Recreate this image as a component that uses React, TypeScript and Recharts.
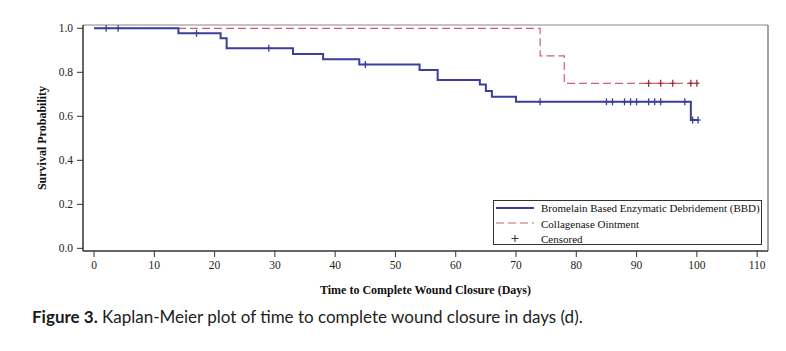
import React from "react";
import {
  ComposedChart,
  Line,
  Scatter,
  XAxis,
  YAxis,
  ReferenceLine,
} from "recharts";

const TIME_TICKS = [0, 10, 20, 30, 40, 50, 60, 70, 80, 90, 100, 110];
const PROB_TICKS = [0, 0.2, 0.4, 0.6, 0.8, 1.0];

const bbdTimes = [0, 14, 21, 22, 33, 38, 44, 54, 57, 64, 65, 66, 70, 99, 100.2];
const bbdSurv = [1, 0.977, 0.955, 0.909, 0.883, 0.859, 0.836, 0.81, 0.765, 0.745, 0.715, 0.689, 0.666, 0.583, 0.583];
const bbdCensorTimes = [2, 4, 17, 29, 45, 74, 85, 86, 88, 89, 90, 92, 93, 94, 98, 99.3, 100.2];
const bbdCensorSurv = [1, 1, 0.977, 0.909, 0.836, 0.666, 0.666, 0.666, 0.666, 0.666, 0.666, 0.666, 0.666, 0.666, 0.666, 0.583, 0.583];

const colTimes = [0, 74, 78, 100];
const colSurv = [1, 0.875, 0.75, 0.75];
const colCensorTimes = [92, 94, 96, 99, 100];
const colCensorSurv = [0.75, 0.75, 0.75, 0.75, 0.75];

const SERIES_NAMES = [
  "Bromelain Based Enzymatic Debridement (BBD)",
  "Collagenase Ointment",
  "Censored",
];

const X_TITLE = "Time to Complete Wound Closure (Days)";
const Y_TITLE = "Survival Probability";

const BLUE = "#3b3e9c";
const RED = "#c9636d";
const DARKRED = "#9e2f3c";
const SERIF = "'Liberation Serif', 'DejaVu Serif', serif";

const zip = (ts: number[], ss: number[]) => ts.map((t, i) => ({ t, s: ss[i] }));
const bbdData = zip(bbdTimes, bbdSurv);
const bbdCensor = zip(bbdCensorTimes, bbdCensorSurv);
const colData = zip(colTimes, colSurv);
const colCensor = zip(colCensorTimes, colCensorSurv);

const makePlus = (color: string) => (props: any) => {
  const { cx, cy } = props;
  if (cx == null || cy == null) return <g />;
  return (
    <g>
      <line x1={cx} y1={cy - 3.5} x2={cx} y2={cy + 3.5} stroke={color} strokeWidth={1.3} />
      <line x1={cx - 2.5} y1={cy} x2={cx + 2.5} y2={cy} stroke={color} strokeWidth={1.3} />
    </g>
  );
};

const renderYLabel = (props: any) => {
  const vb = props.viewBox || {};
  const x = (vb.x ?? 23) + 19;
  const y = (vb.y ?? 25) + (vb.height ?? 226) / 2;
  return (
    <text
      x={x}
      y={y}
      transform={`rotate(-90, ${x}, ${y})`}
      textAnchor="middle"
      dominantBaseline="central"
      fontFamily={SERIF}
      fontWeight="bold"
      fontSize={12}
      fill="#111"
    >
      {Y_TITLE}
    </text>
  );
};

const renderXLabel = (props: any) => {
  const vb = props.viewBox || {};
  const x = (vb.x ?? 83) + (vb.width ?? 685) / 2;
  const y = (vb.y ?? 251) + 39;
  return (
    <text
      x={x}
      y={y}
      textAnchor="middle"
      dominantBaseline="central"
      fontFamily={SERIF}
      fontWeight="bold"
      fontSize={12}
      fill="#111"
    >
      {X_TITLE}
    </text>
  );
};

const LegendBox = () => (
  <svg width={270} height={46} style={{ display: "block" }}>
    <rect x={0.5} y={0.5} width={268} height={44} fill="#fff" stroke="#333" strokeWidth={1} />
    <line x1={3} y1={8} x2={41} y2={8} stroke={BLUE} strokeWidth={1.8} />
    <line x1={3} y1={23} x2={41} y2={23} stroke={RED} strokeWidth={1.2} strokeDasharray="8 4" />
    <g>
      <line x1={22} y1={35} x2={22} y2={42} stroke="#333" strokeWidth={1} />
      <line x1={18.5} y1={38.5} x2={25.5} y2={38.5} stroke="#333" strokeWidth={1} />
    </g>
    {SERIES_NAMES.map((n, i) => (
      <text
        key={n}
        x={48}
        y={8 + i * 15.5}
        dominantBaseline="central"
        fontFamily={SERIF}
        fontSize={11}
        fill="#111"
      >
        {n}
      </text>
    ))}
  </svg>
);

export default function App() {
  return (
    <div
      style={{
        position: "absolute",
        left: 0,
        top: 0,
        width: 786,
        height: 351,
        background: "#fff",
        overflow: "hidden",
      }}
    >
      <ComposedChart
        width={786}
        height={300}
        margin={{ top: 25, right: 18, bottom: 19, left: 23 }}
      >
        <XAxis
          type="number"
          dataKey="t"
          domain={[-1.83, 111.8]}
          allowDataOverflow
          ticks={TIME_TICKS}
          interval={0}
          tickSize={6}
          tickMargin={4}
          height={30}
          stroke="#333"
          tick={{ fontFamily: SERIF, fontSize: 11.5, fill: "#222" }}
          axisLine={{ stroke: "#333", strokeWidth: 1.5 }}
          tickLine={{ stroke: "#333" }}
          label={renderXLabel}
        />
        <YAxis
          type="number"
          dataKey="s"
          domain={[-0.012, 1.015]}
          allowDataOverflow
          ticks={PROB_TICKS}
          interval={0}
          width={60}
          tickSize={6}
          tickMargin={4}
          stroke="#333"
          tickFormatter={(v: number) => v.toFixed(1)}
          tick={{ fontFamily: SERIF, fontSize: 11.5, fill: "#222" }}
          axisLine={{ stroke: "#333", strokeWidth: 1.5 }}
          tickLine={{ stroke: "#333" }}
          label={renderYLabel}
        />
        <ReferenceLine y={1.015} stroke="#888" strokeWidth={1.2} ifOverflow="extendDomain" />
        <ReferenceLine x={111.8} stroke="#666" strokeWidth={1.2} ifOverflow="extendDomain" />
        <Line
          data={colData}
          dataKey="s"
          type="stepAfter"
          stroke={RED}
          strokeWidth={1.2}
          strokeDasharray="8 4"
          dot={false}
          activeDot={false}
          isAnimationActive={false}
          legendType="none"
        />
        <Line
          data={bbdData}
          dataKey="s"
          type="stepAfter"
          stroke={BLUE}
          strokeWidth={2}
          dot={false}
          activeDot={false}
          isAnimationActive={false}
          legendType="none"
        />
        <Scatter
          data={bbdCensor}
          dataKey="s"
          shape={makePlus(BLUE)}
          isAnimationActive={false}
          legendType="none"
        />
        <Scatter
          data={colCensor}
          dataKey="s"
          shape={makePlus(DARKRED)}
          isAnimationActive={false}
          legendType="none"
        />
      </ComposedChart>
      <div style={{ position: "absolute", left: 493, top: 200 }}>
        <LegendBox />
      </div>
      <div
        style={{
          position: "absolute",
          left: 32,
          top: 306,
          fontFamily: "Lato, 'Open Sans', sans-serif",
          fontSize: 17,
          color: "#222",
          whiteSpace: "nowrap",
        }}
      >
        <b style={{ color: "#1a1a1a" }}>Figure 3.</b> Kaplan-Meier plot of time to complete wound closure in days (d).
      </div>
    </div>
  );
}
